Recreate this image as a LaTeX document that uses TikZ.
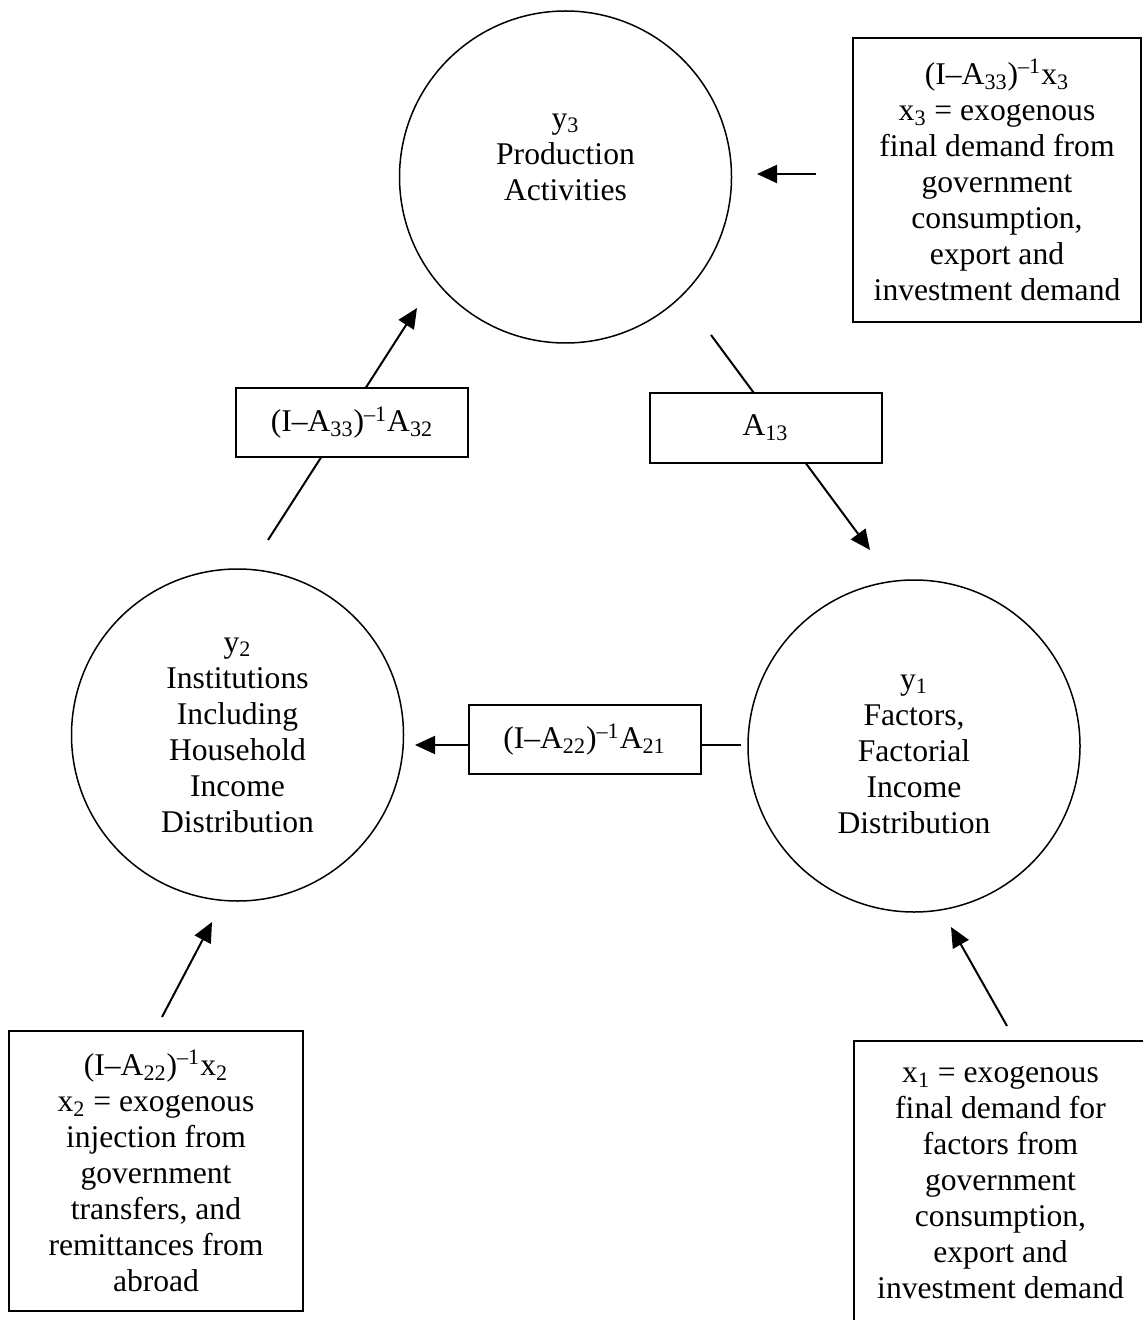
\documentclass[tikz,border=0pt]{standalone}
\usepackage{fontspec}
\setmainfont{Liberation Serif}
\usetikzlibrary{arrows.meta}
\newcommand{\sbx}[1]{\textsubscript{#1}}
\newcommand{\spx}[1]{\textsuperscript{#1}}
\begin{document}
\begin{tikzpicture}[x=0.5pt,y=-0.5pt,
  txt/.style={font=\fontsize{15.8}{18}\selectfont, align=center},
  circ/.style={circle, draw, line width=0.75pt, minimum size=166pt, inner sep=0pt, txt},
  lbox/.style={draw, fill=white, line width=1pt, minimum width=116pt, minimum height=34.5pt, inner sep=0pt, txt},
  bigbox/.style={draw, line width=1pt, inner sep=0pt, txt},
  arr/.style={line width=1pt, -{Triangle[length=10pt,width=9pt]}}]
\useasboundingbox (0,0) rectangle (1143,1320);
\clip (0,0) rectangle (1143,1320);
\fill[white] (0,0) rectangle (1143,1320);

% circles
\node[circ] (p3) at (565.5,177) {};
\node[txt] (p3t) at (565.5,157) {y\sbx{3}\\Production\\Activities};
\node[circ] (p2) at (237.5,735) {y\sbx{2}\\Institutions\\Including\\Household\\Income\\Distribution};
\node[circ] (p1) at (914,746) {};
\node[txt] (p1t) at (914,754) {y\sbx{1}\\Factors,\\Factorial\\Income\\Distribution};

% exogenous boxes
\node[bigbox, minimum width=144pt, minimum height=142pt] (x3) at (997,180)
  {(I–A\sbx{33})\spx{–1}x\sbx{3}\\x\sbx{3} = exogenous\\final demand from\\government\\consumption,\\export and\\investment demand};
\node[bigbox, minimum width=147pt, minimum height=140pt] (x2) at (156,1171)
  {(I–A\sbx{22})\spx{–1}x\sbx{2}\\x\sbx{2} = exogenous\\injection from\\government\\transfers, and\\remittances from\\abroad};
\node[bigbox, minimum width=146.5pt, minimum height=141.5pt] (x1) at (1000.5,1182.5)
  {x\sbx{1} = exogenous\\final demand for\\factors from\\government\\consumption,\\export and\\investment demand};

% connector end points
\coordinate (a3s) at (816,174);  \coordinate (a3e) at (757,174);
\coordinate (a32s) at (268,540); \coordinate (a32e) at (417,308);
\coordinate (a13s) at (711,335); \coordinate (a13e) at (870,550);
\coordinate (a21s) at (741,745); \coordinate (a21e) at (415,745);
\coordinate (a2s) at (162,1017); \coordinate (a2e) at (212,922);
\coordinate (a1s) at (1007,1026); \coordinate (a1e) at (951,927);

\draw[arr] (a3s) -- (a3e);
\draw[arr] (a32s) -- (a32e);
\draw[arr] (a13s) -- (a13e);
\draw[arr] (a21s) -- (a21e);
\draw[arr] (a2s) -- (a2e);
\draw[arr] (a1s) -- (a1e);

% coefficient boxes
\node[lbox] (b32) at (352,422.5) {(I–A\sbx{33})\spx{–1}A\sbx{32}};
\node[lbox] (b13) at (765.5,428) {A\sbx{13}};
\node[lbox] (b21) at (584.5,739.5) {(I–A\sbx{22})\spx{–1}A\sbx{21}};
\end{tikzpicture}
\end{document}
